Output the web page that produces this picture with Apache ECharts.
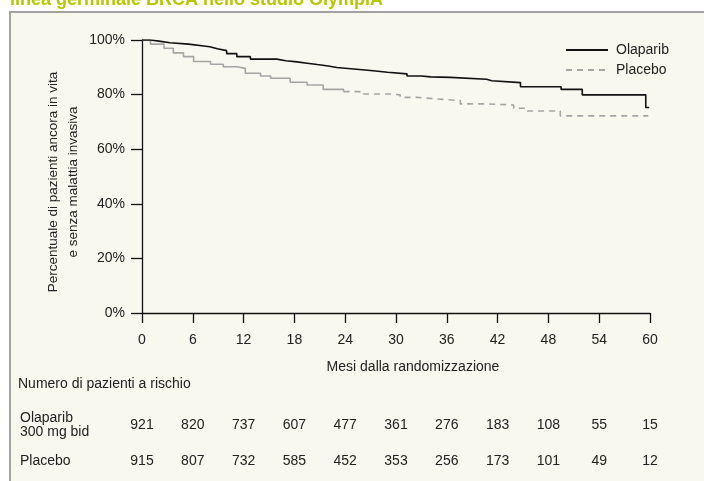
<!DOCTYPE html>
<html>
<head>
<meta charset="utf-8">
<script src="https://cdn.jsdelivr.net/npm/echarts@6/dist/echarts.min.js"></script>
<style>
  html, body { margin: 0; padding: 0; background: #ffffff; }
  #chart { width: 704px; height: 481px; }
</style>
</head>
<body>
<div id="chart"></div>
<script>
// ---- Data ----
const titleText = 'linea germinale BRCA nello studio OlympiA';
const seriesNames = ['Olaparib', 'Placebo'];
const olaparibTime = [0, 1.0, 2.0, 3.3, 5.5, 7.3, 8.0, 8.9, 10.0, 11.2, 12.8, 15.9, 17.0, 18.3, 19.5, 20.7, 22.0, 23.0, 25.0, 27.0, 29.0, 31.3, 33.0, 34.1, 36.4, 40.7, 41.3, 44.7, 49.5, 52.0, 59.5, 59.9];
const olaparibSurv = [100, 99.6, 99.0, 98.5, 97.8, 97.5, 96.8, 96.1, 95.0, 93.9, 93.0, 92.4, 92.0, 91.5, 91.0, 90.5, 89.9, 89.4, 88.8, 88.2, 87.6, 86.8, 86.5, 86.3, 85.6, 85.1, 84.4, 82.9, 81.9, 79.9, 75.3, 75.3];
const placeboTime = [0, 1.0, 2.6, 3.7, 4.9, 6.1, 8.1, 9.6, 11.2, 12.2, 14.0, 15.2, 17.5, 19.5, 21.4, 23.8, 26.2, 29.3, 30.5, 32.5, 34.4, 37.6, 40.7, 43.9, 45.5, 49.4, 59.8];
const placeboSurv = [100, 98.5, 97.0, 95.3, 93.9, 92.1, 91.1, 90.2, 89.6, 87.8, 86.8, 86.0, 84.5, 83.5, 81.9, 81.1, 80.2, 79.9, 79.0, 78.5, 77.8, 76.6, 76.2, 75.0, 74.0, 72.2, 72.2];
const placeboDashFrom = 23.8;
const xTicks = [0, 6, 12, 18, 24, 30, 36, 42, 48, 54, 60];
const yTicks = [0, 20, 40, 60, 80, 100];
const xAxisTitle = 'Mesi dalla randomizzazione';
const yAxisTitle = ['Percentuale di pazienti ancora in vita', 'e senza malattia invasiva'];
const riskTitle = 'Numero di pazienti a rischio';
const riskRowLabels = ['Olaparib\n300 mg bid', 'Placebo'];
const atRiskOlaparib = [921, 820, 737, 607, 477, 361, 276, 183, 108, 55, 15];
const atRiskPlacebo = [915, 807, 732, 585, 452, 353, 256, 173, 101, 49, 12];

// ---- Chart ----
const FONT = "'Liberation Sans', Arial, sans-serif";
const FS = 14;
const TXT = '#222222';
const chart = echarts.init(document.getElementById('chart'), null, { renderer: 'canvas' });

const pairs = (t, s) => t.map((v, i) => [v, s[i]]);
const olaData = pairs(olaparibTime, olaparibSurv);
const plaAll = pairs(placeboTime, placeboSurv);
const plaSolid = plaAll.filter(p => p[0] <= placeboDashFrom);
const plaDashed = plaAll.filter(p => p[0] >= placeboDashFrom);

chart.setOption({
  backgroundColor: '#ffffff',
  animation: false,
  grid: { left: 142, right: 54, top: 40, bottom: 168, containLabel: false },
  legend: {
    orient: 'vertical',
    left: 565,
    top: 43,
    padding: 0,
    itemWidth: 42,
    itemHeight: 14,
    itemGap: 6,
    data: seriesNames,
    itemStyle: { opacity: 0 },
    textStyle: { fontFamily: FONT, fontSize: FS, color: TXT, lineHeight: 14, padding: [0, 0, 0, 3] }
  },
  xAxis: {
    type: 'value',
    min: 0, max: 60, interval: 6,
    axisLine: { show: true, onZero: false, lineStyle: { color: '#111', width: 1.3 } },
    axisTick: { show: true, length: 10, inside: false, lineStyle: { color: '#111', width: 1.3 } },
    axisLabel: { margin: 20, fontFamily: FONT, fontSize: FS, color: TXT,
      formatter: v => xTicks.includes(v) ? String(v) : '' },
    splitLine: { show: false }
  },
  yAxis: {
    type: 'value',
    min: 0, max: 100, interval: 20,
    axisLine: { show: true, lineStyle: { color: '#111', width: 1.3 } },
    axisTick: { show: true, length: 11, inside: false, lineStyle: { color: '#111', width: 1.3 } },
    axisLabel: { margin: 17, fontFamily: FONT, fontSize: FS, color: TXT,
      formatter: v => yTicks.includes(v) ? v + '%' : '' },
    splitLine: { show: false }
  },
  series: [
    {
      name: 'Olaparib', type: 'line', step: 'end', data: olaData,
      showSymbol: false, symbol: 'none',
      lineStyle: { color: '#111111', width: 1.6 },
      itemStyle: { color: '#111111' }, z: 4
    },
    {
      name: 'Placebo', type: 'line', step: 'end', data: plaDashed,
      showSymbol: false, symbol: 'none',
      lineStyle: { color: '#a5a5a5', width: 1.6, type: [6, 5] },
      itemStyle: { color: '#a5a5a5' }, z: 3
    },
    {
      name: 'Placebo', type: 'line', step: 'end', data: plaSolid,
      showSymbol: false, symbol: 'none',
      lineStyle: { color: '#a5a5a5', width: 1.6 },
      itemStyle: { color: '#a5a5a5' }, z: 3
    }
  ]
});

// ---- Texts positioned via the axis scales ----
const px = t => chart.convertToPixel({ xAxisIndex: 0 }, t);
const f = size => size + 'px ' + FONT;
const graphics = [
  { type: 'rect', z: -100, silent: true,
    shape: { x: 10, y: 12, width: 760, height: 520 },
    style: { fill: '#f8f8ee', stroke: '#a2a2a2', lineWidth: 2 } },
  { type: 'text', x: 10, y: 0, z: 10,
    style: { text: titleText, fill: '#b5c800', font: "bold 18px 'Liberation Sans', Arial, sans-serif",
      textAlign: 'left', textVerticalAlign: 'middle' } },
  { type: 'text', x: 413, y: 367, z: 10,
    style: { text: xAxisTitle, fill: TXT, font: f(FS), textAlign: 'center', textVerticalAlign: 'middle' } },
  { type: 'text', x: 63, y: 182, rotation: Math.PI / 2, z: 10,
    style: { text: yAxisTitle.join('\n'), fill: TXT, font: f(13.5), lineHeight: 20,
      textAlign: 'center', textVerticalAlign: 'middle' } },
  { type: 'text', x: 18, y: 384, z: 10,
    style: { text: riskTitle, fill: TXT, font: f(FS), textAlign: 'left', textVerticalAlign: 'middle' } },
  { type: 'text', x: 20, y: 425, z: 10,
    style: { text: riskRowLabels[0], fill: TXT, font: f(FS), lineHeight: 14,
      textAlign: 'left', textVerticalAlign: 'middle' } },
  { type: 'text', x: 20, y: 461, z: 10,
    style: { text: riskRowLabels[1], fill: TXT, font: f(FS), textAlign: 'left', textVerticalAlign: 'middle' } }
];
xTicks.forEach((t, i) => {
  graphics.push({ type: 'text', x: px(t), y: 425, z: 10,
    style: { text: String(atRiskOlaparib[i]), fill: TXT, font: f(FS), textAlign: 'center', textVerticalAlign: 'middle' } });
  graphics.push({ type: 'text', x: px(t), y: 461, z: 10,
    style: { text: String(atRiskPlacebo[i]), fill: TXT, font: f(FS), textAlign: 'center', textVerticalAlign: 'middle' } });
});
chart.setOption({ graphic: graphics });
</script>
</body>
</html>
